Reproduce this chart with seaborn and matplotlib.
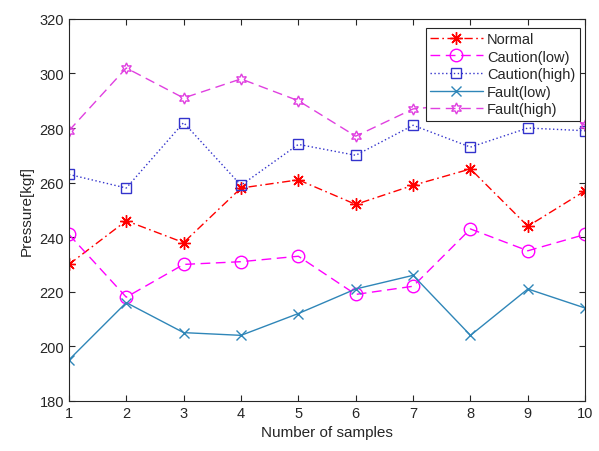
import matplotlib
matplotlib.use("Agg")
import matplotlib.pyplot as plt
import seaborn as sns
import pandas as pd

samples = [1, 2, 3, 4, 5, 6, 7, 8, 9, 10]
normal = [230, 246, 238, 258, 261, 252, 259, 265, 244, 257]
caution_low = [241, 218, 230, 231, 233, 219, 222, 243, 235, 241]
caution_high = [263, 258, 282, 259, 274, 270, 281, 273, 280, 279]
fault_low = [195, 216, 205, 204, 212, 221, 226, 204, 221, 214]
fault_high = [279, 302, 291, 298, 290, 277, 287, 289, 294, 281]

series_names = ["Normal", "Caution(low)", "Caution(high)", "Fault(low)", "Fault(high)"]
series_values = [normal, caution_low, caution_high, fault_low, fault_high]

sns.set_theme(style="white")
plt.rcParams['font.family'] = ['Liberation Sans', 'DejaVu Sans']

rows = []
for name, vals in zip(series_names, series_values):
    for s, v in zip(samples, vals):
        rows.append({"sample": s, "value": v, "series": name})
df = pd.DataFrame(rows)

styles = {
    "Normal": dict(color="#FF0000", linestyle=(0, (6, 2.5, 1.2, 2.5)), marker=(8, 2, 0), ms=9, mfc="#FF0000"),
    "Caution(low)": dict(color="#FF00FF", linestyle=(0, (7, 4)), marker="o", ms=9, mfc="none"),
    "Caution(high)": dict(color="#3333CC", linestyle=(0, (1, 1.8)), marker="s", ms=7, mfc="none"),
    "Fault(low)": dict(color="#2F86B8", linestyle="-", marker="x", ms=7, mfc="none"),
    "Fault(high)": dict(color="#E040E0", linestyle=(0, (7, 4)), marker=(6, 1, 0), ms=8, mfc="none"),
}

fig = plt.figure(figsize=(5.99, 4.52), dpi=100)
ax = fig.add_axes([0.115, 0.111, 0.862, 0.845])

for name in series_names:
    st = styles[name]
    sub = df[df["series"] == name]
    sns.lineplot(data=sub, x="sample", y="value", ax=ax, label=name,
                 color=st["color"], linestyle=st["linestyle"], marker=st["marker"],
                 markersize=st["ms"], markerfacecolor=st["mfc"], markeredgecolor=st["color"],
                 markeredgewidth=1.0, linewidth=1.0)

ax.set_xlim(1, 10)
ax.set_ylim(180, 320)
ax.set_xticks(samples)
ax.set_yticks(range(180, 321, 20))
ax.set_xlabel("Number of samples", fontsize=11, color="#262626")
ax.set_ylabel("Pressure[kgf]", fontsize=11, color="#262626")
ax.tick_params(direction="in", length=4, width=0.8, colors="#262626", labelsize=10.5,
               top=True, right=True, bottom=True, left=True)
for sp in ax.spines.values():
    sp.set_color("#262626")
    sp.set_linewidth(0.8)
    sp.set_visible(True)

leg = ax.legend(loc="upper right", bbox_to_anchor=(0.995, 0.985), fontsize=10.5,
                handlelength=3.6, frameon=True, fancybox=False, edgecolor="#262626",
                framealpha=1.0, borderpad=0.3, labelspacing=0.25, handletextpad=0.3,
                borderaxespad=0.2)
leg.get_frame().set_linewidth(0.8)

fig.savefig("out.png", dpi=100)
